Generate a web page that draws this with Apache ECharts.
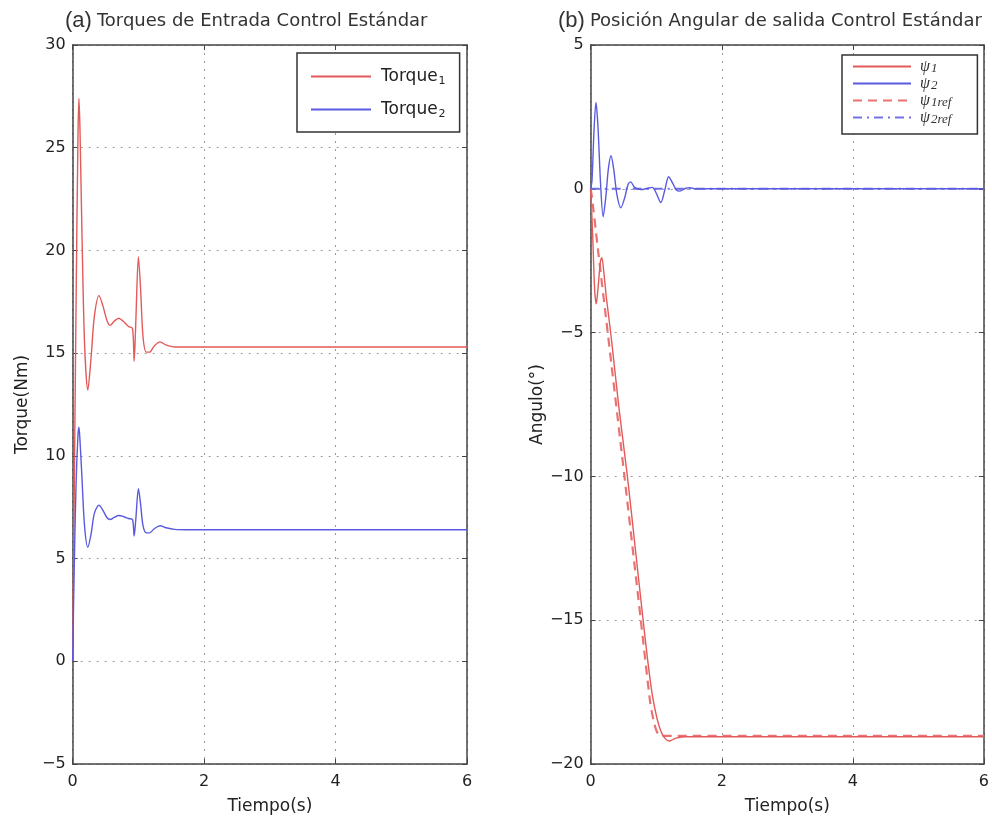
<!DOCTYPE html>
<html>
<head>
<meta charset="utf-8">
<script src="https://cdn.jsdelivr.net/npm/echarts@6/dist/echarts.min.js"></script>
<style>html,body{margin:0;padding:0;background:#fff;}#c{width:992px;height:823px;}</style>
</head>
<body>
<div id="c"></div>
<script>
// ---- Data ----
const xTicks = [0, 2, 4, 6];
const torqueTicksY = [-5, 0, 5, 10, 15, 20, 25, 30];
const angleTicksY = [-20, -15, -10, -5, 0, 5];

const torqueTime = [0, 0.02, 0.05, 0.08, 0.095, 0.11, 0.14, 0.18, 0.23, 0.28, 0.33, 0.40, 0.46, 0.52, 0.57, 0.63, 0.70, 0.77, 0.85, 0.91, 0.935, 0.96, 1.0, 1.035, 1.07, 1.12, 1.17, 1.24, 1.33, 1.42, 1.55, 1.8, 6];
const torque1 = [0, 7, 17, 25.5, 27.4, 26, 21, 15.5, 13.2, 14.8, 16.8, 17.8, 17.3, 16.6, 16.35, 16.55, 16.7, 16.55, 16.3, 16.2, 14.6, 16.5, 19.7, 18.0, 15.8, 15.05, 15.05, 15.35, 15.55, 15.4, 15.3, 15.3, 15.3];
const torque2 = [0, 4, 8.5, 11.0, 11.4, 10.8, 9.0, 6.6, 5.55, 6.2, 7.2, 7.6, 7.35, 7.0, 6.9, 7.0, 7.1, 7.05, 6.95, 6.9, 6.1, 6.9, 8.4, 7.6, 6.6, 6.25, 6.25, 6.45, 6.6, 6.5, 6.42, 6.4, 6.4];

const psi1Time = [0, 0.03, 0.06, 0.085, 0.11, 0.15, 0.17, 0.2, 0.24, 0.31, 0.43, 0.56, 0.68, 0.8, 0.87, 0.94, 1.01, 1.07, 1.13, 1.2, 1.3, 1.45, 6];
const psi1 = [0, -1.6, -3.5, -4.0, -3.5, -2.5, -2.4, -2.9, -3.8, -5.1, -7.6, -10.0, -12.5, -15.0, -16.4, -17.6, -18.4, -18.85, -19.1, -19.2, -19.1, -19.05, -19.05];

const psi2Time = [0, 0.02, 0.05, 0.08, 0.11, 0.15, 0.19, 0.23, 0.27, 0.31, 0.35, 0.40, 0.46, 0.52, 0.57, 0.61, 0.67, 0.77, 0.87, 0.94, 1.0, 1.07, 1.13, 1.19, 1.25, 1.31, 1.36, 1.45, 1.51, 1.6, 6];
const psi2 = [0, 0.3, 2.0, 3.0, 2.2, 0.2, -0.97, -0.3, 0.7, 1.15, 0.7, -0.2, -0.66, -0.3, 0.15, 0.24, 0.05, -0.03, 0.02, 0.05, -0.15, -0.48, -0.05, 0.42, 0.2, -0.05, -0.08, 0.02, 0.04, 0, 0];

const psi1RefTime = [0, 0.02, 0.1, 0.26, 0.51, 0.76, 0.91, 0.97, 1.01, 1.04, 1.07, 6];
const psi1Ref = [0, -0.3, -1.9, -5.0, -9.9, -14.9, -17.9, -18.6, -18.88, -18.98, -19.02, -19.02];

const psi2RefTime = [0, 6];
const psi2Ref = [0, 0];

// ---- helpers ----
function zip(t, v) { return t.map((x, i) => [x, v[i]]); }
const RED = '#e35a5a', BLUE = '#5a5ae0';
const FONT = 'DejaVu Sans';
const minus = v => String(v).replace('-', '\u2212');

function baseX(grid, pos, show) {
  return {
    type: 'value', gridIndex: grid, position: pos, min: 0, max: 6, interval: 2,
    axisLine: { show: true, onZero: false, lineStyle: { color: '#444', width: 1.5 } },
    axisTick: { show: true, inside: true, length: 5, lineStyle: { color: '#444' } },
    axisLabel: { show: show, margin: 10, color: '#222', fontSize: 16, fontFamily: FONT, formatter: minus },
    splitLine: { show: show, lineStyle: { color: '#9a9a9a', type: [2, 6], width: 1 } },
    name: show ? 'Tiempo(s)' : '', nameLocation: 'middle', nameGap: 34,
    nameTextStyle: { color: '#222', fontSize: 17, fontFamily: FONT }
  };
}
function baseY(grid, pos, show, min, max, name) {
  return {
    type: 'value', gridIndex: grid, position: pos, min: min, max: max, interval: 5,
    axisLine: { show: true, onZero: false, lineStyle: { color: '#444', width: 1.5 } },
    axisTick: { show: true, inside: true, length: 5, lineStyle: { color: '#444' } },
    axisLabel: { show: show, margin: 7, color: '#222', fontSize: 16, fontFamily: FONT, formatter: minus },
    splitLine: { show: show, lineStyle: { color: '#9a9a9a', type: [2, 6], width: 1 } },
    name: show ? name : '', nameLocation: 'middle', nameGap: 42,
    nameTextStyle: { color: '#222', fontSize: 17, fontFamily: FONT }
  };
}

const chart = echarts.init(document.getElementById('c'), null, { renderer: 'canvas' });
const titleRich = {
  a: { fontSize: 22, color: '#333', fontFamily: 'Liberation Sans', fontWeight: 'normal' },
  t: { fontSize: 18, color: '#333', fontFamily: FONT, fontWeight: 'normal' }
};
const option = {
  animation: false,
  backgroundColor: '#fff',
  title: [
    { left: 60, top: 5, text: '{a|(a)} {t|Torques de Entrada Control Estándar}',
      textStyle: { fontWeight: 'normal', rich: titleRich } },
    { left: 553, top: 5, text: '{a|(b)} {t|Posición Angular de salida Control Estándar}',
      textStyle: { fontWeight: 'normal', rich: titleRich } }
  ],
  legend: [
    { left: 297, top: 53, orient: 'vertical', data: ['Torque1', 'Torque2'],
      itemWidth: 60, itemHeight: 14, itemGap: 12, padding: [13, 14, 12, 13],
      itemStyle: { opacity: 0 },
      borderColor: '#333', borderWidth: 1.5, backgroundColor: '#fff', selectedMode: false,
      formatter: n => '{t|Torque}{s|' + n.slice(-1) + '}',
      textStyle: { padding: [0, 0, 0, 5], rich: { t: { fontSize: 17, color: '#222', fontFamily: FONT, lineHeight: 20 }, s: { fontSize: 11, color: '#222', fontFamily: FONT, lineHeight: 12, padding: [10, 0, 0, 1] } } } },
    { left: 842, top: 55, orient: 'vertical', data: ['psi1', 'psi2', 'psi1ref', 'psi2ref'],
      itemWidth: 58, itemHeight: 12, itemGap: 0, padding: [3, 26, 8, 10],
      itemStyle: { opacity: 0 },
      borderColor: '#333', borderWidth: 1.5, backgroundColor: '#fff', selectedMode: false,
      formatter: n => '{p|ψ}{s|' + n.slice(3) + '}',
      textStyle: { padding: [0, 0, 0, 4], lineHeight: 12, rich: { p: { fontSize: 16, fontStyle: 'italic', color: '#333', fontFamily: 'Liberation Serif', lineHeight: 12 }, s: { fontSize: 13, fontStyle: 'italic', color: '#333', fontFamily: 'Liberation Serif', lineHeight: 8, padding: [4, 0, 0, 1] } } } }
  ],
  grid: [
    { left: 72.7, top: 45, width: 394.3, height: 719 },
    { left: 590.7, top: 45, width: 393.3, height: 719 }
  ],
  xAxis: [baseX(0, 'bottom', true), baseX(0, 'top', false), baseX(1, 'bottom', true), baseX(1, 'top', false)],
  yAxis: [baseY(0, 'left', true, -5, 30, 'Torque(Nm)'), baseY(0, 'right', false, -5, 30, ''),
          baseY(1, 'left', true, -20, 5, 'Angulo(°)'), baseY(1, 'right', false, -20, 5, '')],
  series: [
    { name: 'Torque1', type: 'line', xAxisIndex: 0, yAxisIndex: 0, data: zip(torqueTime, torque1), symbol: 'none', smooth: 0.3, color: RED, lineStyle: { color: RED, width: 1.4 } },
    { name: 'Torque2', type: 'line', xAxisIndex: 0, yAxisIndex: 0, data: zip(torqueTime, torque2), symbol: 'none', smooth: 0.3, color: BLUE, lineStyle: { color: BLUE, width: 1.4 } },
    { name: 'psi1ref', type: 'line', xAxisIndex: 2, yAxisIndex: 2, data: zip(psi1RefTime, psi1Ref), symbol: 'none', smooth: 0.2, color: '#ea7272', lineStyle: { color: '#ea7272', width: 2.2, type: [9, 6] } },
    { name: 'psi2ref', type: 'line', xAxisIndex: 2, yAxisIndex: 2, data: zip(psi2RefTime, psi2Ref), symbol: 'none', color: '#7272e6', lineStyle: { color: '#7272e6', width: 2, type: [9, 5, 2, 5] } },
    { name: 'psi1', type: 'line', xAxisIndex: 2, yAxisIndex: 2, data: zip(psi1Time, psi1), symbol: 'none', smooth: 0.3, color: RED, lineStyle: { color: RED, width: 1.4 } },
    { name: 'psi2', type: 'line', xAxisIndex: 2, yAxisIndex: 2, data: zip(psi2Time, psi2), symbol: 'none', smooth: 0.3, color: BLUE, lineStyle: { color: BLUE, width: 1.4 } }
  ]
};
chart.setOption(option);
</script>
</body>
</html>
